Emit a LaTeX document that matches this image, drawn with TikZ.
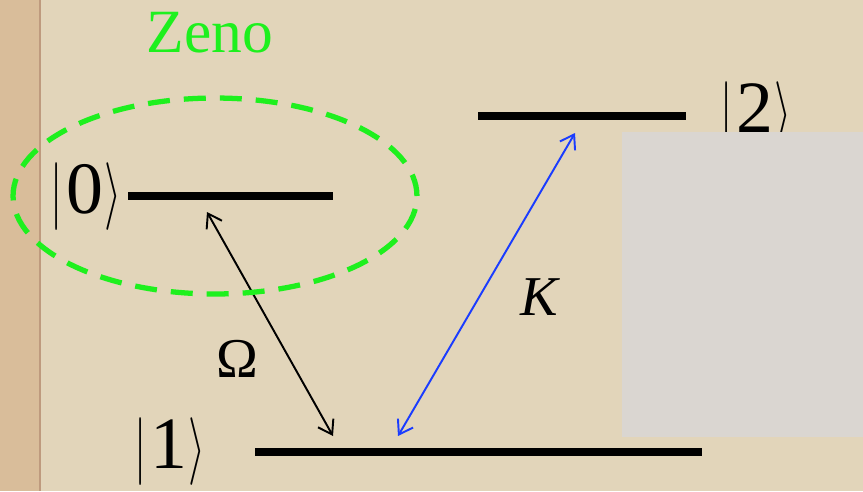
\documentclass[tikz,border=0pt]{standalone}
\usepackage{fontspec}
\setmainfont{Liberation Serif}
\usetikzlibrary{arrows.meta, positioning}
\definecolor{Paper}{HTML}{E2D5BA}
\definecolor{PaperEdge}{HTML}{D9BD9A}
\definecolor{EdgeLine}{HTML}{BE9A7E}
\definecolor{Panel}{HTML}{DAD6D1}
\definecolor{ZenoGreen}{HTML}{1EF01E}
\definecolor{CoupBlue}{HTML}{1A3CFF}
\newcommand{\bigket}[1]{\scalebox{1}[1.55]{$|$}\kern2pt\textrm{#1}\kern1pt\scalebox{1}[1.55]{$\rangle$}}

\begin{document}
\begin{tikzpicture}[
    x=0.02cm, y=-0.02cm,
    level/.style={fill=black, inner sep=0pt, minimum height=0.16cm},
    ket/.style={font=\fontsize{42}{42}\selectfont, inner sep=0pt},
    label/.style={font=\fontsize{32}{32}\selectfont, inner sep=0pt},
    coupling/.style={line width=1.1pt, {Straight Barb[length=7.5pt,width=10pt]}-{Straight Barb[length=7.5pt,width=10pt]}}
]
\useasboundingbox (0,0) rectangle (863,491);
% paper background
\fill[Paper] (0,0) rectangle (863,491);
\fill[PaperEdge] (0,0) rectangle (40,491);
\draw[EdgeLine, line width=1.5pt] (40,0) -- (40,491);

% energy levels
\node[level, minimum width=4.1cm] (lev0) at (230.5,196) {};
\node[level, minimum width=4.16cm] (lev2) at (582,116) {};
\node[level, minimum width=8.94cm] (lev1) at (478.5,452) {};
\node[ket] (k0) at (86,197) {\bigket{0}};
\node[ket] (k2) at (756,116) {\bigket{2}};
\node[ket] (k1) at (170,452) {\bigket{1}};

% couplings
\coordinate (om0) at (207,212);
\coordinate (om1) at (333,436);
\coordinate (kk2) at (575,133);
\coordinate (kk1) at (398,436);
\draw[coupling] (om0) -- (om1);
\draw[coupling, CoupBlue] (kk2) -- (kk1);
\node[label] (omega) at (237,359) {Ω};
\node[label] (kappa) at (540,297) {\textit{K}};

% Zeno region
\draw[ZenoGreen, line width=3pt, dash pattern=on 0.44cm off 0.28cm] (215,196) ellipse [x radius=4.04cm, y radius=1.96cm];
\node[text=ZenoGreen, font=\fontsize{35}{35}\selectfont] (zeno) at (210,33) {Zeno};

% grey panel
\fill[Panel] (622,132) rectangle (863,437);
\end{tikzpicture}
\end{document}
